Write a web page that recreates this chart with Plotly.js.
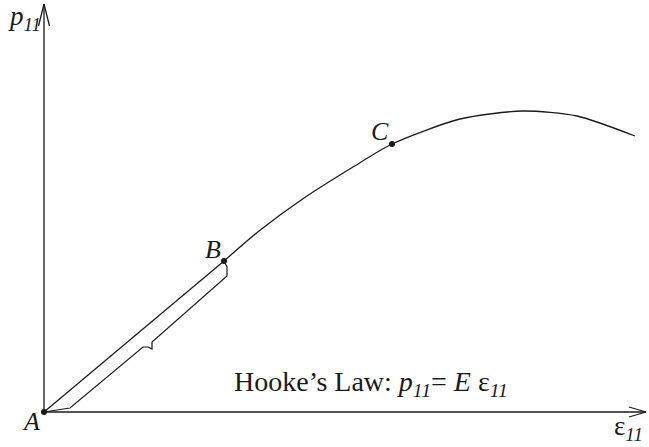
<!DOCTYPE html>
<html>
<head>
<meta charset="utf-8">
<script src="https://cdn.plot.ly/plotly-3.0.1.min.js"></script>
<style>
  html, body { margin: 0; padding: 0; background: #fff; }
  #chart { width: 649px; height: 447px; }
</style>
</head>
<body>
<div id="chart"></div>
<script>
// Stress-strain sketch: linear elastic segment A-B, then a hardening curve through C to a peak.
const linearStrain = [0, 180];
const linearStress = [0, 151];

const curveStrain = [180, 215, 260, 309, 348, 416, 479, 533, 591];
const curveStress = [151, 181, 214, 245, 268, 293, 301, 296, 276];

// Labelled points
const pointNames = ['A', 'B', 'C'];
const pointStrain = [0, 180, 348];
const pointStress = [0, 151, 268];

// Bracket marking the Hooke's law region (offset below A-B, with a small break)
const bracketStrain = [0, 26, 99, 104, 108, 108, 183, 183, 180];
const bracketStress = [0, 4, 65, 65, 63, 70, 136, 145, 151];

const ink = '#1a1a1a';
const serif = 'Liberation Serif, Times New Roman, serif';

const traces = [
  { x: linearStrain, y: linearStress, mode: 'lines', line: { color: ink, width: 1.3 }, hoverinfo: 'skip' },
  { x: curveStrain, y: curveStress, mode: 'lines', line: { color: ink, width: 1.3, shape: 'spline', smoothing: 0.7 }, hoverinfo: 'skip' },
  { x: bracketStrain, y: bracketStress, mode: 'lines', line: { color: ink, width: 1.2 }, hoverinfo: 'skip' },
  { x: pointStrain, y: pointStress, mode: 'markers', marker: { color: ink, size: 6 }, hoverinfo: 'skip' }
];

// Axis lines with open arrowheads
const axisLine = { color: ink, width: 1.3 };
const shapes = [
  { type: 'line', x0: 0, y0: 0, x1: 0, y1: 408, line: axisLine },
  { type: 'line', x0: -5.5, y0: 386, x1: 0, y1: 408, line: axisLine },
  { type: 'line', x0: 5.5, y0: 386, x1: 0, y1: 408, line: axisLine },
  { type: 'line', x0: 0, y0: 0, x1: 602, y1: 0, line: axisLine },
  { type: 'line', x0: 585, y0: 5, x1: 602, y1: 0, line: axisLine },
  { type: 'line', x0: 585, y0: -5, x1: 602, y1: 0, line: axisLine }
];

const labelOffsets = [[-13, -9], [-11, 12], [-12, 13]];
const annotations = pointNames.map((n, i) => ({
  x: pointStrain[i] + labelOffsets[i][0],
  y: pointStress[i] + labelOffsets[i][1],
  text: '<i>' + n + '</i>',
  showarrow: false,
  font: { family: serif, size: 26, color: ink }
}));

annotations.push(
  { x: -20, y: 394, text: '<i>p</i><sub><i>11</i></sub>', showarrow: false,
    font: { family: serif, size: 27, color: ink } },
  { x: 584, y: -16, text: 'ε<sub><i>11</i></sub>', showarrow: false,
    font: { family: serif, size: 27, color: ink } },
  { x: 327, y: 29, text: 'Hooke’s Law: <i>p</i><sub><i>11</i></sub>= <i>E</i> ε<sub><i>11</i></sub>',
    showarrow: false, font: { family: serif, size: 28, color: ink } }
);

const layout = {
  width: 649, height: 447,
  margin: { l: 0, r: 0, t: 0, b: 0 },
  paper_bgcolor: '#fff', plot_bgcolor: '#fff',
  showlegend: false,
  xaxis: { range: [-44, 605], visible: false, fixedrange: true },
  yaxis: { range: [-35, 412], visible: false, fixedrange: true },
  shapes: shapes,
  annotations: annotations
};

Plotly.newPlot('chart', traces, layout, { staticPlot: true });
</script>
</body>
</html>
